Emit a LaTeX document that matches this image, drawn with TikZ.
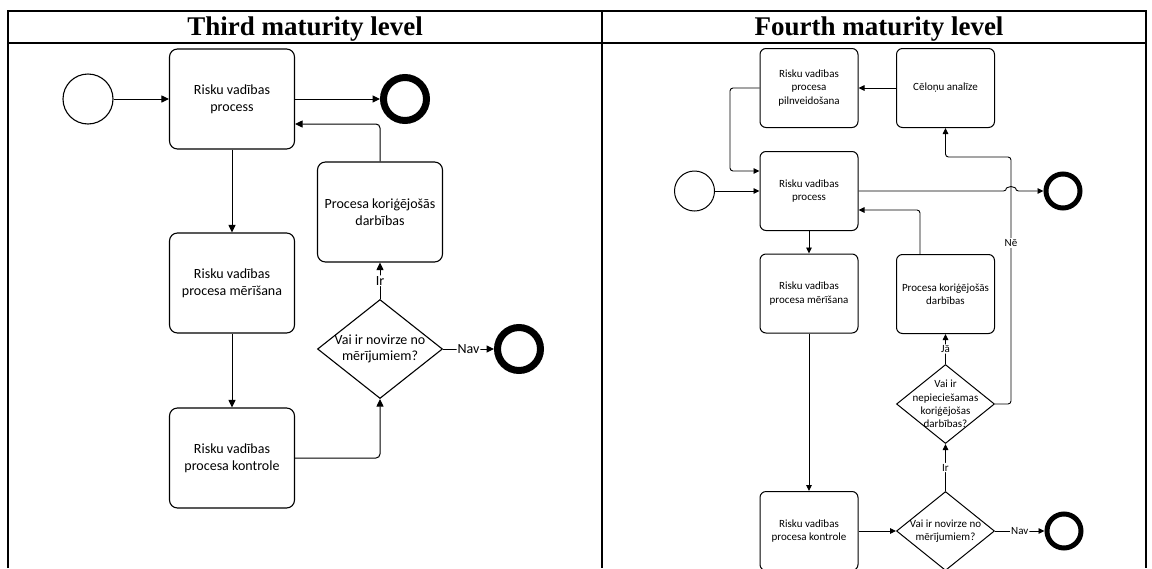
\documentclass[tikz,border=0pt]{standalone}
\usepackage{fontspec}
\setmainfont{Liberation Serif}
\newfontfamily\carl{Carlito}
\usetikzlibrary{shapes.geometric,arrows.meta,calc}
\begin{document}
\begin{tikzpicture}[x=1pt,y=-1pt,
  boxL/.style={draw, line width=1.1pt, rounded corners=8pt, minimum width=125pt, minimum height=100pt, inner sep=0pt, align=center, font=\carl\fontsize{14}{16.7}\selectfont},
  boxR/.style={draw, line width=1pt, rounded corners=6pt, minimum width=98pt, minimum height=79pt, inner sep=0pt, align=center, font=\carl\fontsize{11}{13.3}\selectfont},
  diaL/.style={draw, diamond, line width=1.1pt, minimum width=125pt, minimum height=99pt, inner sep=0pt},
  diaR/.style={draw, diamond, line width=1pt, minimum width=98pt, minimum height=79pt, inner sep=0pt},
  txtL/.style={align=center, inner sep=0pt, font=\carl\fontsize{14}{16.7}\selectfont},
  txtR/.style={align=center, inner sep=0pt, font=\carl\fontsize{11}{13.3}\selectfont},
  startL/.style={draw, circle, line width=1.1pt, minimum size=50pt, inner sep=0pt},
  startR/.style={draw, circle, line width=1pt, minimum size=40pt, inner sep=0pt},
  endL/.style={draw, circle, line width=7pt, minimum size=43pt, inner sep=0pt},
  endR/.style={draw, circle, line width=5pt, minimum size=34pt, inner sep=0pt},
  arrL/.style={line width=1pt, rounded corners=4pt, -{Triangle[length=7.5pt,width=7pt]}},
  arrR/.style={line width=0.9pt, rounded corners=3pt, -{Triangle[length=6pt,width=5.5pt]}},
  lblL/.style={fill=white, inner sep=1pt, font=\carl\fontsize{14}{16}\selectfont},
  lblR/.style={fill=white, inner sep=1pt, font=\carl\fontsize{11}{13}\selectfont},
  frame/.style={line width=2pt},
  title/.style={anchor=base, font=\fontsize{27}{30}\selectfont\bfseries}
]
\clip (0,0) rectangle (1152,568);
% frame
\draw[frame] (7.5,568) -- (7.5,11) -- (1146,11) -- (1146,568);
\draw[frame] (602,11) -- (602,568);
\draw[frame] (7.5,43) -- (1146,43);
\node[title] (t3) at (305,35.5) {Third maturity level};
\node[title] (t4) at (879,35.5) {Fourth maturity level};

% ---------- left panel ----------
\node[startL] (s1) at (88,99) {};
\node[boxL] (b1) at (232,99) {Risku vadības\\process};
\node[endL] (e1) at (405,99) {};
\node[boxL] (pr1) at (380,212) {Procesa koriģējošās\\darbības};
\node[boxL] (b2) at (232,283) {Risku vadības\\procesa mērīšana};
\node[diaL] (d1) at (380,349) {};
\node[txtL] (d1t) at (380,349) {Vai ir novirze no\\mērījumiem?};
\node[endL] (e2) at (519,349) {};
\node[boxL] (b3) at (232,458) {Risku vadības\\procesa kontrole};

\draw[arrL] (s1) -- (b1);
\draw[arrL] (b1) -- (e1);
\draw[arrL] (b1) -- (b2);
\draw[arrL] (b2) -- (b3);
\draw[arrL] (b3.east) -| (d1.south);
\draw[arrL] (d1.north) -- (pr1.south) node[lblL, midway] (ir1) {Ir};
\draw[arrL] (pr1.north) |- ($(b1.east)+(0,25)$);
\draw[arrL] (d1.east) -- (e2.west) node[lblL, midway] (nav1) {Nav};

% ---------- right panel ----------
\node[startR] (s2) at (694.5,191) {};
\node[boxR] (pil) at (809,88) {Risku vadības\\procesa\\pilnveidošana};
\node[boxR] (cel) at (945.5,88) {Cēloņu analīze};
\node[boxR] (p4) at (809,191) {Risku vadības\\process};
\node[endR] (e4) at (1063,191) {};
\node[boxR] (mer) at (809,293.5) {Risku vadības\\procesa mērīšana};
\node[boxR] (pr2) at (945.5,294) {Procesa koriģējošās\\darbības};
\node[diaR] (d2) at (945.5,404) {};
\node[txtR] (d2t) at (945.5,404) {Vai ir\\nepieciešamas\\koriģējošas\\darbības?};
\node[boxR] (kon) at (809,531) {Risku vadības\\procesa kontrole};
\node[diaR] (d3) at (945.5,531) {};
\node[txtR] (d3t) at (945.5,531) {Vai ir novirze no\\mērījumiem?};
\node[endR] (e5) at (1064,531) {};

\coordinate (lx) at (730,0);
\coordinate (nl) at (1011,157);

\draw[arrR] (s2) -- (s2 -| p4.west);
\draw[arrR] (pil.west) -- (pil.west -| lx) |- ($(p4.west)+(0,-20)$);
\draw[arrR] (cel.west) -- (pil.east);
\draw[arrR] (p4.east) -- ($(p4.east -| nl)+(-4.5,0)$) arc[start angle=180, end angle=0, radius=4.5pt] -- (e4.west);
\draw[arrR] (d2.east) -| (nl) -| (cel.south);
\node[lblR] (ne) at (1011,243) {Nē};
\draw[arrR] ($(pr2.north)+(-25.5,0)$) |- ($(p4.east)+(0,19)$);
\draw[arrR] (p4) -- (mer);
\draw[arrR] (mer) -- (kon);
\draw[arrR] (kon.east) -- (d3.west);
\draw[arrR] (d3.north) -- (d2.south) node[lblR, midway] (ir2) {Ir};
\draw[arrR] (d2.north) -- (pr2.south) node[lblR, midway] (ja) {Jā};
\draw[arrR] (d3.east) -- (e5.west) node[lblR, midway] (nav2) {Nav};
\end{tikzpicture}
\end{document}
